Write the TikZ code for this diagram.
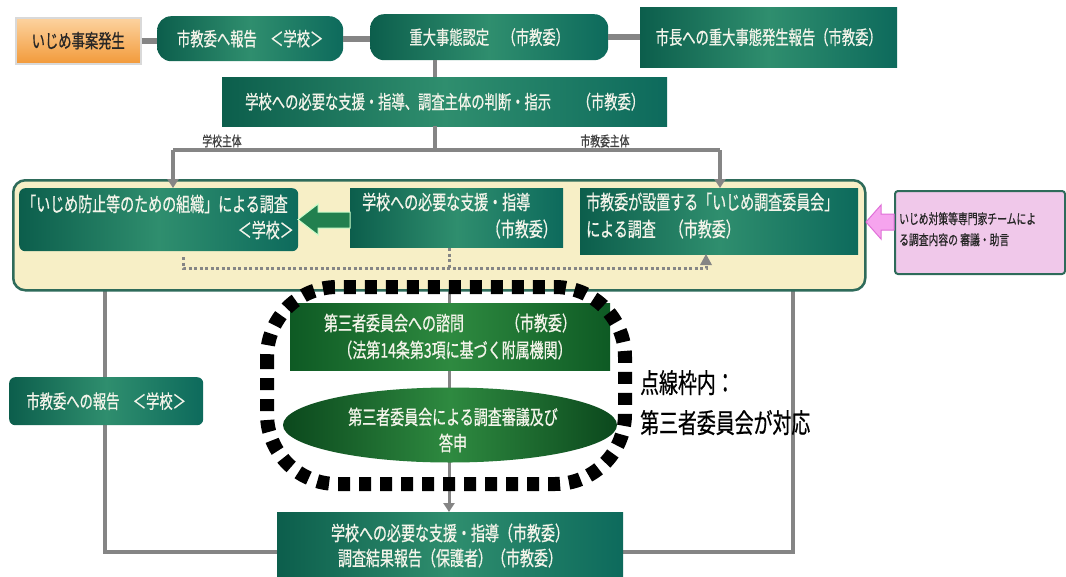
\documentclass[tikz,border=0pt]{standalone}
\usepackage{fontspec}
\setmainfont{Noto Sans CJK JP}[FakeStretch=0.7,FakeBold=0.6]
\usetikzlibrary{arrows.meta,shapes.geometric}
\definecolor{tealD}{HTML}{0C5E4C}
\definecolor{tealL}{HTML}{2F8E6E}
\definecolor{tealE}{HTML}{0D6A5C}
\definecolor{grnD}{HTML}{0E5A24}
\definecolor{grnL}{HTML}{2E8A40}
\definecolor{lineG}{HTML}{858585}
\definecolor{creamF}{HTML}{F7EFC6}
\definecolor{creamB}{HTML}{2E6B5A}
\definecolor{txtW}{HTML}{F4F4EA}
\definecolor{orT}{HTML}{FCD3A0}
\definecolor{orB}{HTML}{F29A3A}
\definecolor{pinkF}{HTML}{F0C8EA}
\definecolor{pinkA}{HTML}{F6A4EE}
\definecolor{pinkE}{HTML}{E070D8}
\definecolor{arrG}{HTML}{22804F}
\tikzset{
  gbox/.style={rectangle, left color=tealD, right color=tealE, middle color=tealL, draw=none, inner sep=0pt, anchor=north west, text=txtW},
  grbox/.style={rectangle, left color=grnD, right color=grnD, middle color=grnL, draw=none, inner sep=0pt, anchor=north west},
  wt/.style={text=txtW, inner sep=0pt, font=\fontsize{20}{22}\selectfont},
  tt/.style={font=\fontsize{19}{21}\selectfont},
  conn/.style={draw=lineG, line width=4pt},
  topconn/.style={draw=lineG, line width=6pt},
  tip/.style={-{Triangle[width=11pt,length=9pt]}},
  dotl/.style={draw=lineG, line width=3pt, dash pattern=on 3pt off 2.5pt},
}
\begin{document}
\begin{tikzpicture}[x=1pt,y=-1pt]
\useasboundingbox (0,0) rectangle (1066,576);
\fill[white] (0,0) rectangle (1066,576);

% coordinates for connectors
\coordinate (v1) at (435,60);
\coordinate (hL) at (173,150);
\coordinate (hR) at (720,150);
\coordinate (lx) at (105,552);
\coordinate (rx) at (793,552);

% boxes of top rows
\node[rectangle, top color=orT, bottom color=orB, draw=black!15, line width=1.5pt, inner sep=0pt, anchor=north west, minimum width=125pt, minimum height=46pt, text=black!85, font=\fontsize{19}{21}\selectfont] (start) at (15,17) {いじめ事案発生};
\node[gbox, rounded corners=14pt, minimum width=186pt, minimum height=45pt, tt] (rep1) at (157,16) {市教委へ報告　＜学校＞};
\node[gbox, rounded corners=14pt, minimum width=238pt, minimum height=46pt, tt] (judge) at (370,14) {重大事態認定　（市教委）};
\node[gbox, minimum width=257pt, minimum height=60pt, tt] (mayor) at (640,7) {市長への重大事態発生報告（市教委）};
\node[gbox, minimum width=445pt, minimum height=49pt, tt] (instr) at (222,77) {学校への必要な支援・指導、調査主体の判断・指示　　（市教委）};

% top connectors
\draw[topconn] (start.east) -- (start.east -| rep1.west);
\draw[topconn] (rep1.east) -- (rep1.east -| judge.west);
\draw[topconn] (judge.east) -- (judge.east -| mayor.west);
\draw[conn] (v1|-judge.south) -- (v1|-instr.north);
\draw[conn] (v1|-instr.south) -- (v1|-hL);
\draw[conn] (hL) -- (hR);
\node[font=\fontsize{14}{16}\selectfont, text=black!75, inner sep=0pt] (lab1) at (222,141) {学校主体};
\node[font=\fontsize{14}{16}\selectfont, text=black!75, inner sep=0pt] (lab2) at (605,141) {市教委主体};

% long gray lines below
\draw[conn] (105,288) -- (lx) -- (277,552);
\draw[conn] (793,288) -- (rx) -- (623,552);
\draw[draw=lineG, line width=3pt, tip] (449,288) -- (449,512);

% cream container
\node[rectangle, rounded corners=12pt, fill=creamF, draw=creamB, line width=2.5pt, anchor=north west, minimum width=852pt, minimum height=110pt, inner sep=0pt] (cream) at (12,179) {};

\node[gbox, rounded corners=6pt, minimum width=279pt, minimum height=63pt] (boxA) at (19,188) {};
\node[gbox, minimum width=213pt, minimum height=59pt] (boxB) at (350,188) {};
\node[gbox, minimum width=278pt, minimum height=66pt] (boxC) at (580,188) {};
\node[wt, anchor=west] (tA1) at (22,204) {「いじめ防止等のための組織」による調査};
\node[wt, anchor=east] (tA2) at (294,230) {＜学校＞};
\node[wt, anchor=west] (tB1) at (362,202) {学校への必要な支援・指導};
\node[wt, anchor=east] (tB2) at (557,229) {（市教委）};
\node[wt, anchor=west] (tC1) at (586,202) {市教委が設置する「いじめ調査委員会」};
\node[wt, anchor=west] (tC2) at (586,229) {による調査　（市教委）};

% arrows down into the container
\draw[conn, tip] (hL) -- (hL|-boxA.north);
\draw[conn, tip] (hR) -- (hR|-boxC.north);

% block arrow B -> A
\filldraw[fill=arrG, draw=white!80!green, line width=1pt] (298,219.5) -- (318,204) -- (318,212) -- (350,212) -- (350,228) -- (318,228) -- (318,235) -- cycle;

% dotted lines inside container
\draw[dotl] (183,257) -- (183,268) -- (706,268) -- (706,264);
\draw[dotl] (449,248) -- (449,268);
\draw[fill=lineG, draw=none] (706,254) -- (712,265) -- (700,265) -- cycle;

% pink box and arrow
\node[rectangle, rounded corners=3pt, fill=pinkF, draw=creamB, line width=2pt, anchor=north west, minimum width=170pt, minimum height=83pt, inner sep=0pt] (pink) at (894,190) {};
\node[anchor=north west, align=left, inner sep=0pt, text=black!85, font=\fontsize{14}{21}\selectfont] (pinkt) at (899,212) {いじめ対策等専門家チームによ\\る調査内容の 審議・助言};
\filldraw[fill=pinkA, draw=pinkE, line width=1pt] (866,222) -- (881,205) -- (881,214) -- (894,214) -- (894,230) -- (881,230) -- (881,239) -- cycle;

% left report box
\node[gbox, rounded corners=6pt, minimum width=194pt, minimum height=48pt, tt] (rep2) at (9,377) {市教委への報告　＜学校＞};

% third-party committee
\node[grbox, minimum width=320pt, minimum height=67pt] (third) at (290,303) {};
\node[wt, text=txtW] (th1) at (450,323) {第三者委員会への諮問　　　（市教委）};
\node[wt, text=txtW] (th2) at (455,350) {（法第14条第3項に基づく附属機関）};
\node[ellipse, left color=grnD!80!black, right color=grnD!80!black, middle color=grnL, minimum width=334pt, minimum height=75pt, inner sep=0pt] (oval) at (450,425) {};
\node[wt] (ov1) at (453,417) {第三者委員会による調査審議及び};
\node[wt] (ov2) at (453,443) {答申};

% final box
\node[gbox, minimum width=346pt, minimum height=64pt] (final) at (277,512) {};
\node[wt] (f1) at (450,533) {学校への必要な支援・指導（市教委）};
\node[wt] (f2) at (450,558) {調査結果報告（保護者）（市教委）};

% thick dashed frame
\draw[black, line width=14pt, dash pattern=on 12pt off 9pt, rounded corners=70pt] (267,287) rectangle (625,484);

\node[anchor=north west, align=left, inner sep=0pt, text=black, font=\fontsize{27}{40}\selectfont] (note) at (640,370) {点線枠内：\\第三者委員会が対応};
\end{tikzpicture}
\end{document}
